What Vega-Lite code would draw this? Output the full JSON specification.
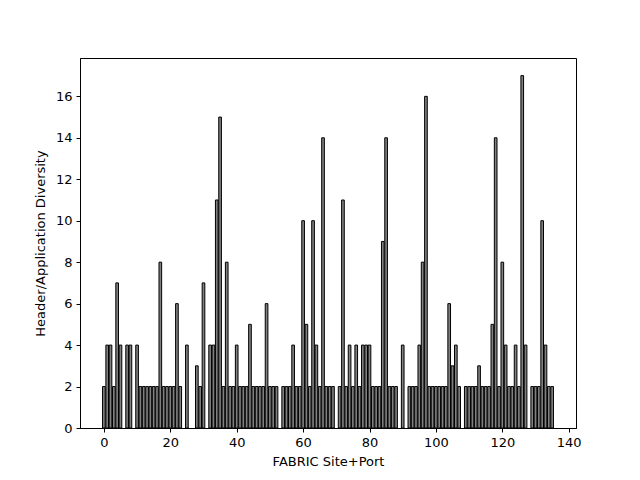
{
  "$schema": "https://vega.github.io/schema/vega-lite/v6.json",
  "width": 496,
  "height": 370,
  "autosize": {"type": "none"},
  "padding": {"left": 80, "top": 58, "right": 64, "bottom": 52},
  "background": "white",
  "config": {
    "view": {"stroke": "black", "strokeWidth": 1},
    "font": "DejaVu Sans",
    "axis": {
      "grid": false,
      "domainColor": "black",
      "tickColor": "black",
      "tickSize": 4,
      "labelColor": "black",
      "titleColor": "black",
      "labelFont": "DejaVu Sans",
      "titleFont": "DejaVu Sans",
      "labelFontSize": 13,
      "titleFontSize": 13,
      "titleFontWeight": "normal",
      "labelPadding": 4
    }
  },
  "data": {
    "values": [
      {"site": 0, "v": 2}, {"site": 1, "v": 4}, {"site": 2, "v": 4}, {"site": 3, "v": 2}, {"site": 4, "v": 7}, {"site": 5, "v": 4},
      {"site": 7, "v": 4}, {"site": 8, "v": 4}, {"site": 10, "v": 4},
      {"site": 11, "v": 2}, {"site": 12, "v": 2}, {"site": 13, "v": 2}, {"site": 14, "v": 2}, {"site": 15, "v": 2}, {"site": 16, "v": 2},
      {"site": 17, "v": 8}, {"site": 18, "v": 2}, {"site": 19, "v": 2}, {"site": 20, "v": 2}, {"site": 21, "v": 2},
      {"site": 22, "v": 6}, {"site": 23, "v": 2}, {"site": 25, "v": 4},
      {"site": 28, "v": 3}, {"site": 29, "v": 2}, {"site": 30, "v": 7},
      {"site": 32, "v": 4}, {"site": 33, "v": 4}, {"site": 34, "v": 11}, {"site": 35, "v": 15}, {"site": 36, "v": 2}, {"site": 37, "v": 8},
      {"site": 38, "v": 2}, {"site": 39, "v": 2}, {"site": 40, "v": 4}, {"site": 41, "v": 2}, {"site": 42, "v": 2}, {"site": 43, "v": 2},
      {"site": 44, "v": 5}, {"site": 45, "v": 2}, {"site": 46, "v": 2}, {"site": 47, "v": 2}, {"site": 48, "v": 2}, {"site": 49, "v": 6},
      {"site": 50, "v": 2}, {"site": 51, "v": 2}, {"site": 52, "v": 2},
      {"site": 54, "v": 2}, {"site": 55, "v": 2}, {"site": 56, "v": 2}, {"site": 57, "v": 4}, {"site": 58, "v": 2}, {"site": 59, "v": 2},
      {"site": 60, "v": 10}, {"site": 61, "v": 5}, {"site": 62, "v": 2}, {"site": 63, "v": 10}, {"site": 64, "v": 4}, {"site": 65, "v": 2},
      {"site": 66, "v": 14}, {"site": 67, "v": 2}, {"site": 68, "v": 2}, {"site": 69, "v": 2},
      {"site": 71, "v": 2}, {"site": 72, "v": 11}, {"site": 73, "v": 2}, {"site": 74, "v": 4}, {"site": 75, "v": 2}, {"site": 76, "v": 4},
      {"site": 77, "v": 2}, {"site": 78, "v": 4}, {"site": 79, "v": 4}, {"site": 80, "v": 4}, {"site": 81, "v": 2}, {"site": 82, "v": 2},
      {"site": 83, "v": 2}, {"site": 84, "v": 9}, {"site": 85, "v": 14}, {"site": 86, "v": 2}, {"site": 87, "v": 2}, {"site": 88, "v": 2},
      {"site": 90, "v": 4},
      {"site": 92, "v": 2}, {"site": 93, "v": 2}, {"site": 94, "v": 2}, {"site": 95, "v": 4}, {"site": 96, "v": 8}, {"site": 97, "v": 16},
      {"site": 98, "v": 2}, {"site": 99, "v": 2}, {"site": 100, "v": 2}, {"site": 101, "v": 2}, {"site": 102, "v": 2}, {"site": 103, "v": 2},
      {"site": 104, "v": 6}, {"site": 105, "v": 3}, {"site": 106, "v": 4}, {"site": 107, "v": 2},
      {"site": 109, "v": 2}, {"site": 110, "v": 2}, {"site": 111, "v": 2}, {"site": 112, "v": 2}, {"site": 113, "v": 3},
      {"site": 114, "v": 2}, {"site": 115, "v": 2}, {"site": 116, "v": 2}, {"site": 117, "v": 5}, {"site": 118, "v": 14}, {"site": 119, "v": 2},
      {"site": 120, "v": 8}, {"site": 121, "v": 4}, {"site": 122, "v": 2}, {"site": 123, "v": 2}, {"site": 124, "v": 4}, {"site": 125, "v": 2},
      {"site": 126, "v": 17}, {"site": 127, "v": 4},
      {"site": 129, "v": 2}, {"site": 130, "v": 2}, {"site": 131, "v": 2}, {"site": 132, "v": 10}, {"site": 133, "v": 4},
      {"site": 134, "v": 2}, {"site": 135, "v": 2}
    ]
  },
  "transform": [
    {"calculate": "datum.site - 0.4", "as": "lo"},
    {"calculate": "datum.site + 0.4", "as": "hi"}
  ],
  "mark": {"type": "bar", "fill": "#808080", "stroke": "black", "strokeWidth": 1},
  "encoding": {
    "x": {
      "field": "lo",
      "type": "quantitative",
      "scale": {"domain": [-7.19, 142.19], "nice": false, "zero": false},
      "axis": {"values": [0, 20, 40, 60, 80, 100, 120, 140], "title": "FABRIC Site+Port", "titlePadding": 6}
    },
    "x2": {"field": "hi"},
    "y": {
      "field": "v",
      "type": "quantitative",
      "scale": {"domain": [0, 17.85], "nice": false},
      "axis": {"values": [0, 2, 4, 6, 8, 10, 12, 14, 16], "title": "Header/Application Diversity", "titlePadding": 8}
    },
    "y2": {"datum": 0}
  }
}
